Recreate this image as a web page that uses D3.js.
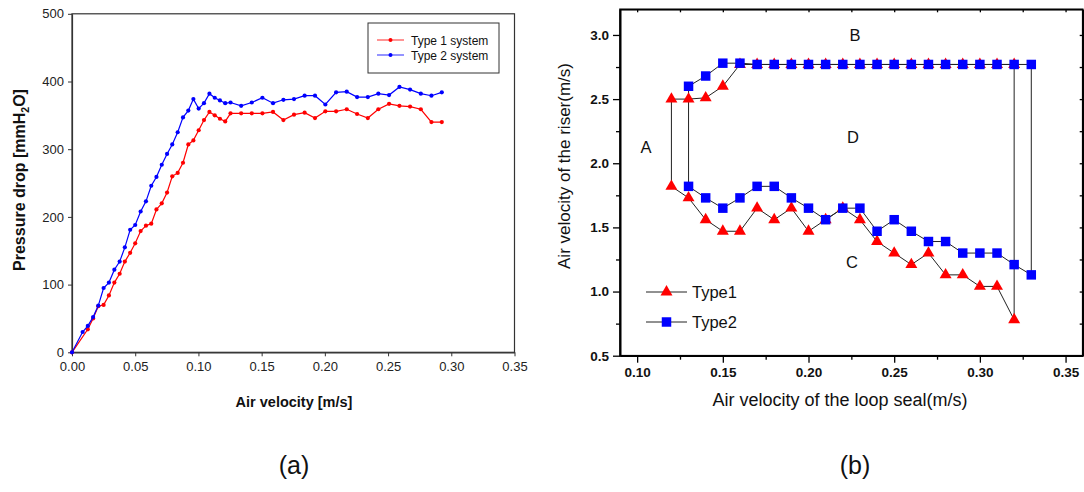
<!DOCTYPE html>
<html>
<head>
<meta charset="utf-8">
<script src="https://cdn.jsdelivr.net/npm/d3@7"></script>
<style>
  body { margin: 0; background: #fff; }
  text { font-family: Arial, "Liberation Sans", sans-serif; }
</style>
</head>
<body>
<svg id="chart" width="1084" height="492"></svg>
<script>
// (a) pressure drop vs air velocity
const type1SysVel = [0, 0.0125, 0.0167, 0.0208, 0.025, 0.0292, 0.0335, 0.0377, 0.0418, 0.046,
  0.050, 0.0543, 0.0585, 0.0627, 0.0668, 0.071, 0.0752, 0.0793, 0.0836, 0.0878,
  0.092, 0.096, 0.1002, 0.1044, 0.1087, 0.1129, 0.117, 0.1212, 0.1254, 0.1338,
  0.1422, 0.1506, 0.159, 0.1672, 0.1756, 0.184, 0.1922, 0.2004, 0.2089, 0.2173,
  0.2255, 0.234, 0.2423, 0.2508, 0.259, 0.2674, 0.2759, 0.2843, 0.2925];
const type1SysDrop = [0, 34, 50, 68, 70, 84, 103, 116, 134, 147,
  161, 179, 187, 190, 211, 220, 236, 260, 265, 280,
  307, 313, 328, 343, 355, 350, 345, 341, 353, 353,
  353, 353, 355, 343, 351, 354, 346, 356, 356, 359,
  352, 346, 359, 367, 364, 363, 359, 340, 340];
const type2SysVel = [0, 0.0084, 0.0125, 0.0167, 0.0208, 0.025, 0.0292, 0.0335, 0.0377, 0.0418,
  0.046, 0.050, 0.0543, 0.0585, 0.0627, 0.0668, 0.071, 0.0752, 0.0793, 0.0836,
  0.0878, 0.092, 0.096, 0.1002, 0.1044, 0.1087, 0.1129, 0.117, 0.1212, 0.1254,
  0.1338, 0.1422, 0.1506, 0.159, 0.1672, 0.1756, 0.184, 0.1922, 0.2004, 0.2089,
  0.2173, 0.2255, 0.234, 0.2423, 0.2508, 0.259, 0.2674, 0.2759, 0.2843, 0.2925];
const type2SysDrop = [0, 30, 39, 52, 69, 95, 103, 122, 134, 155,
  181, 188, 208, 223, 246, 259, 277, 293, 307, 325,
  347, 357, 374, 360, 368, 382, 376, 372, 368, 369,
  364, 369, 376, 368, 373, 374, 379, 379, 366, 384,
  385, 377, 377, 382, 380, 392, 388, 382, 379, 384];
const aTicksX = [0, 0.05, 0.10, 0.15, 0.20, 0.25, 0.30, 0.35];
const aTicksY = [0, 100, 200, 300, 400, 500];
const aLegend = ["Type 1 system", "Type 2 system"];

// (b) riser velocity vs loop seal velocity
const type1Vel = [0.12, 0.13, 0.14, 0.15, 0.16, 0.17, 0.18, 0.19, 0.20, 0.21, 0.22,
  0.23, 0.24, 0.25, 0.26, 0.27, 0.28, 0.29, 0.30, 0.31, 0.32];
const type1Upper = [2.50, 2.50, 2.51, 2.60, 2.77, 2.77, 2.77, 2.77, 2.77, 2.77, 2.77,
  2.77, 2.77, 2.77, 2.77, 2.77, 2.77, 2.77, 2.77, 2.77, 2.77];
const type1Lower = [1.82, 1.73, 1.56, 1.47, 1.47, 1.65, 1.56, 1.65, 1.47, 1.56, 1.65,
  1.56, 1.39, 1.30, 1.21, 1.30, 1.13, 1.13, 1.04, 1.04, 0.78];
const type2Vel = [0.13, 0.14, 0.15, 0.16, 0.17, 0.18, 0.19, 0.20, 0.21, 0.22, 0.23,
  0.24, 0.25, 0.26, 0.27, 0.28, 0.29, 0.30, 0.31, 0.32, 0.33];
const type2Upper = [2.60, 2.68, 2.78, 2.78, 2.77, 2.77, 2.77, 2.77, 2.77, 2.77, 2.77,
  2.77, 2.77, 2.77, 2.77, 2.77, 2.77, 2.77, 2.77, 2.77, 2.77];
const type2Lower = [1.82, 1.73, 1.65, 1.73, 1.82, 1.82, 1.73, 1.65, 1.56, 1.65, 1.65,
  1.47, 1.56, 1.47, 1.39, 1.39, 1.30, 1.30, 1.30, 1.21, 1.13];
const bTicksX = [0.10, 0.15, 0.20, 0.25, 0.30, 0.35];
const bMinorX = [0.125, 0.175, 0.225, 0.275, 0.325];
const bTicksY = [0.5, 1.0, 1.5, 2.0, 2.5, 3.0];
const bMinorY = [0.75, 1.25, 1.75, 2.25, 2.75];
const regionLabels = [
  { t: "A", x: 0.1052, y: 2.08 },
  { t: "B", x: 0.2271, y: 2.95 },
  { t: "D", x: 0.226, y: 2.16 },
  { t: "C", x: 0.2254, y: 1.18 }
];
const bLegend = ["Type1", "Type2"];

const svg = d3.select("#chart");

// ---------- chart (a) ----------
const xA = d3.scaleLinear().domain([0, 0.35]).range([72, 514.5]);
const yA = d3.scaleLinear().domain([0, 500]).range([352.3, 13.8]);
const gA = svg.append("g");

gA.append("rect")
  .attr("x", xA(0)).attr("y", yA(500))
  .attr("width", xA(0.35) - xA(0)).attr("height", yA(0) - yA(500))
  .attr("fill", "none").attr("stroke", "#333").attr("stroke-width", 1.2);

const axA = gA.append("g")
  .attr("transform", `translate(0,${yA(0)})`)
  .call(d3.axisBottom(xA).tickValues(aTicksX).tickFormat(d3.format(".2f"))
    .tickSize(4).tickSizeOuter(0).tickPadding(5));
const ayA = gA.append("g")
  .attr("transform", `translate(${xA(0)},0)`)
  .call(d3.axisLeft(yA).tickValues(aTicksY).tickSize(4).tickSizeOuter(0).tickPadding(4));
[axA, ayA].forEach((g) => {
  g.select(".domain").attr("stroke", "#333").attr("stroke-width", 1.2);
  g.selectAll(".tick line").attr("stroke", "#333");
  g.selectAll(".tick text").attr("font-size", 13).attr("fill", "#222")
    .style("font-family", "Arial, 'Liberation Sans', sans-serif");
});

const aSeries = [
  { vel: type1SysVel, val: type1SysDrop, color: "#ff0000" },
  { vel: type2SysVel, val: type2SysDrop, color: "#0000ff" }
];
const lineA = d3.line().x((d) => xA(d[0])).y((d) => yA(d[1]));
aSeries.forEach((s) => {
  const pts = s.vel.map((v, i) => [v, s.val[i]]);
  gA.append("path").attr("d", lineA(pts))
    .attr("fill", "none").attr("stroke", s.color).attr("stroke-width", 1.2);
  gA.selectAll(null).data(pts).enter().append("circle")
    .attr("cx", (d) => xA(d[0])).attr("cy", (d) => yA(d[1]))
    .attr("r", 2.1).attr("fill", s.color);
});

// legend (a)
gA.append("rect").attr("x", 368).attr("y", 23).attr("width", 131).attr("height", 50)
  .attr("fill", "#fff").attr("stroke", "#333").attr("stroke-width", 1);
aLegend.forEach((name, i) => {
  const y = 40 + i * 15;
  gA.append("line").attr("x1", 377).attr("x2", 404).attr("y1", y).attr("y2", y)
    .attr("stroke", aSeries[i].color).attr("stroke-width", 1.2).attr("opacity", 0.7);
  gA.append("circle").attr("cx", 390.5).attr("cy", y).attr("r", 2).attr("fill", aSeries[i].color);
  gA.append("text").attr("x", 411).attr("y", y + 4.5).attr("font-size", 12)
    .attr("fill", "#111").text(name);
});

gA.append("text").attr("x", 294).attr("y", 407).attr("text-anchor", "middle")
  .attr("font-size", 14.5).attr("font-weight", "bold").attr("fill", "#111")
  .text("Air velocity [m/s]");
const yTitleA = gA.append("text")
  .attr("transform", "translate(25,180) rotate(-90)")
  .attr("text-anchor", "middle").attr("font-size", 16).attr("font-weight", "bold").attr("fill", "#111");
yTitleA.append("tspan").text("Pressure drop [mmH");
yTitleA.append("tspan").attr("font-size", 10.5).attr("dy", 4).text("2");
yTitleA.append("tspan").attr("dy", -4).text("O]");

svg.append("text").attr("x", 294).attr("y", 474).attr("text-anchor", "middle")
  .attr("font-size", 25).attr("fill", "#111").text("(a)");

// ---------- chart (b) ----------
const xB = d3.scaleLinear().domain([0.09, 0.36]).range([620, 1082.7]);
const yB = d3.scaleLinear().domain([0.5, 3.2]).range([355.7, 9.3]);
const gB = svg.append("g");
const bFont = "Arial, 'Liberation Sans', sans-serif";

// frame
gB.append("rect")
  .attr("x", xB(0.09)).attr("y", yB(3.2))
  .attr("width", xB(0.36) - xB(0.09)).attr("height", yB(0.5) - yB(3.2))
  .attr("fill", "none").attr("stroke", "#000").attr("stroke-width", 1.6);

// bottom axis
const axB = gB.append("g").attr("transform", `translate(0,${yB(0.5)})`)
  .call(d3.axisBottom(xB).tickValues(bTicksX).tickFormat(d3.format(".2f"))
    .tickSize(7).tickSizeOuter(0).tickPadding(5));
gB.append("g").attr("transform", `translate(0,${yB(0.5)})`)
  .call(d3.axisBottom(xB).tickValues(bMinorX).tickFormat("").tickSize(4).tickSizeOuter(0));
// left axis
const ayB = gB.append("g").attr("transform", `translate(${xB(0.09)},0)`)
  .call(d3.axisLeft(yB).tickValues(bTicksY).tickFormat(d3.format(".1f"))
    .tickSize(7).tickSizeOuter(0).tickPadding(4));
gB.append("g").attr("transform", `translate(${xB(0.09)},0)`)
  .call(d3.axisLeft(yB).tickValues(bMinorY).tickFormat("").tickSize(4).tickSizeOuter(0));
// mirrored inner ticks on top and right
gB.append("g").attr("transform", `translate(0,${yB(3.2)})`)
  .call(d3.axisBottom(xB).tickValues(bTicksX.concat(bMinorX)).tickFormat("").tickSize(3).tickSizeOuter(0));
gB.append("g").attr("transform", `translate(${xB(0.36)},0)`)
  .call(d3.axisLeft(yB).tickValues(bTicksY.concat(bMinorY)).tickFormat("").tickSize(3).tickSizeOuter(0));
gB.selectAll(".domain").attr("stroke", "#000").attr("stroke-width", 1.6);
gB.selectAll(".tick line").attr("stroke", "#000").attr("stroke-width", 1.3);
[axB, ayB].forEach((g) => {
  g.selectAll(".tick text").attr("font-size", 13.5).attr("font-weight", "bold")
    .attr("fill", "#111").style("font-family", bFont);
});

// loops
const lineB = d3.line().x((d) => xB(d[0])).y((d) => yB(d[1]));
const bSeries = [
  { vel: type1Vel, up: type1Upper, low: type1Lower, color: "#ff0000",
    sym: d3.symbol().type(d3.symbolTriangle).size(62) },
  { vel: type2Vel, up: type2Upper, low: type2Lower, color: "#0000ff",
    sym: d3.symbol().type(d3.symbolSquare).size(90) }
];
bSeries.forEach((s) => {
  const upper = s.vel.map((v, i) => [v, s.up[i]]);
  const lower = s.vel.map((v, i) => [v, s.low[i]]);
  const loop = upper.concat(lower.slice().reverse());
  gB.append("path").attr("d", lineB(loop) + "Z")
    .attr("fill", "none").attr("stroke", "#222").attr("stroke-width", 1);
});
bSeries.forEach((s) => {
  const pts = s.vel.map((v, i) => [v, s.up[i]]).concat(s.vel.map((v, i) => [v, s.low[i]]));
  gB.selectAll(null).data(pts).enter().append("path")
    .attr("d", s.sym)
    .attr("transform", (d) => `translate(${xB(d[0])},${yB(d[1])})`)
    .attr("fill", s.color);
});

regionLabels.forEach((r) => {
  gB.append("text").attr("x", xB(r.x)).attr("y", yB(r.y)).attr("text-anchor", "middle")
    .attr("font-size", 16.5).attr("fill", "#111").text(r.t);
});

// legend (b)
bLegend.forEach((name, i) => {
  const y = 292 + i * 30;
  gB.append("line").attr("x1", 646).attr("x2", 687).attr("y1", y).attr("y2", y)
    .attr("stroke", "#222").attr("stroke-width", 1);
  gB.append("path").attr("d", bSeries[i].sym)
    .attr("transform", `translate(666.5,${y})`).attr("fill", bSeries[i].color);
  gB.append("text").attr("x", 692).attr("y", y + 6).attr("font-size", 16.5)
    .attr("fill", "#111").text(name);
});

gB.append("text").attr("x", 840).attr("y", 406).attr("text-anchor", "middle")
  .attr("font-size", 18).attr("fill", "#111").text("Air velocity of the loop seal(m/s)");
gB.append("text").attr("transform", "translate(570,166) rotate(-90)")
  .attr("text-anchor", "middle").attr("font-size", 17).attr("fill", "#111")
  .text("Air velocity of the riser(m/s)");

svg.append("text").attr("x", 855).attr("y", 474).attr("text-anchor", "middle")
  .attr("font-size", 25).attr("fill", "#111").text("(b)");
</script>
</body>
</html>
